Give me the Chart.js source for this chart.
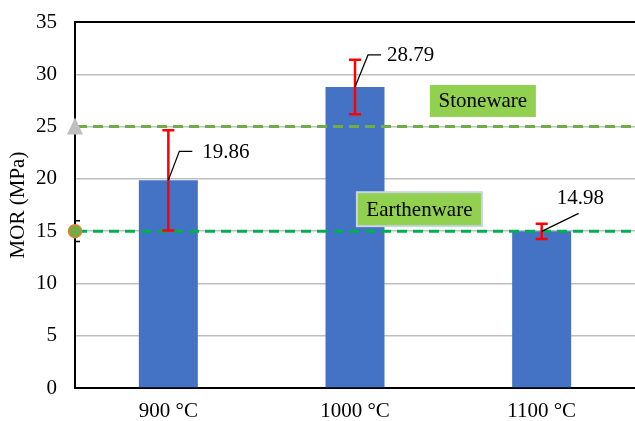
<!DOCTYPE html>
<html>
<head>
<meta charset="utf-8">
<script src="https://cdn.jsdelivr.net/npm/chart.js@4/dist/chart.umd.min.js"></script>
<style>
  html, body { margin: 0; padding: 0; background: #fff; }
  #wrap { width: 635px; height: 421px; }
</style>
</head>
<body>
<div id="wrap"><canvas id="morChart" width="635" height="421"></canvas></div>
<script>
// categorias e valores (MPa)
const temperaturas = ["900 °C", "1000 °C", "1100 °C"];
const mor = [19.86, 28.79, 14.98];
const erroMor = [4.8, 2.6, 0.72];
const yTicks = [0, 5, 10, 15, 20, 25, 30, 35];

// linhas de referência
const refNomes = ["Stoneware", "Earthenware"];
const refValores = [25, 15];
const refErro = [0, 1];

const serif = "'Liberation Serif', 'Times New Roman', serif";

// desenha linhas tracejadas, barras de erro, rótulos e caixas
const extras = {
  id: "extras",
  afterDatasetsDraw(chart) {
    const ctx = chart.ctx;
    const x = chart.scales.x;
    const y = chart.scales.y;
    const area = chart.chartArea;
    ctx.save();

    // borda superior
    ctx.strokeStyle = "#000";
    ctx.lineWidth = 2;
    ctx.beginPath();
    ctx.moveTo(area.left - 1, area.top);
    ctx.lineTo(area.right, area.top);
    ctx.stroke();

    // linhas tracejadas
    const cores = ["#70AD47", "#00B050"];
    refValores.forEach((v, i) => {
      const py = y.getPixelForValue(v);
      ctx.strokeStyle = cores[i];
      ctx.lineWidth = 3;
      ctx.setLineDash([10, 6]);
      ctx.beginPath();
      ctx.moveTo(area.left + 2, py);
      ctx.lineTo(area.right, py);
      ctx.stroke();
    });
    ctx.setLineDash([]);

    // barras de erro
    ctx.strokeStyle = "#FF0000";
    ctx.lineWidth = 2.5;
    mor.forEach((v, i) => {
      const px = x.getPixelForValue(i);
      const top = y.getPixelForValue(v + erroMor[i]);
      const bot = y.getPixelForValue(v - erroMor[i]);
      ctx.beginPath();
      ctx.moveTo(px, top); ctx.lineTo(px, bot);
      ctx.moveTo(px - 6, top); ctx.lineTo(px + 6, top);
      ctx.moveTo(px - 6, bot); ctx.lineTo(px + 6, bot);
      ctx.stroke();
    });

    // marcadores no eixo
    const ax = area.left;
    const ty = y.getPixelForValue(refValores[0]);
    ctx.fillStyle = "#BFBFBF";
    ctx.beginPath();
    ctx.moveTo(ax, ty - 9);
    ctx.lineTo(ax + 8, ty + 8);
    ctx.lineTo(ax - 8, ty + 8);
    ctx.closePath();
    ctx.fill();

    const cy = y.getPixelForValue(refValores[1]);
    ctx.strokeStyle = "#000";
    ctx.lineWidth = 1.5;
    ctx.beginPath();
    ctx.moveTo(ax, y.getPixelForValue(refValores[1] + refErro[1]));
    ctx.lineTo(ax + 5, y.getPixelForValue(refValores[1] + refErro[1]));
    ctx.moveTo(ax, y.getPixelForValue(refValores[1] - refErro[1]));
    ctx.lineTo(ax + 5, y.getPixelForValue(refValores[1] - refErro[1]));
    ctx.stroke();
    ctx.fillStyle = "#70AD47";
    ctx.strokeStyle = "#ED7D31";
    ctx.lineWidth = 1.5;
    ctx.beginPath();
    ctx.arc(ax, cy, 6.5, 0, Math.PI * 2);
    ctx.fill();
    ctx.stroke();

    // rótulos de dados com linha de chamada
    const chamadas = [
      [[11, -29], [24, -29], [34, -28]],
      [[13, -32], [26, -32], [32, -31]],
      [[37, -18], [37, -18], [15, -33]]
    ];
    ctx.font = "21px " + serif;
    ctx.fillStyle = "#000";
    ctx.textBaseline = "middle";
    mor.forEach((v, i) => {
      const px = x.getPixelForValue(i);
      const py = y.getPixelForValue(v);
      const c = chamadas[i];
      ctx.strokeStyle = "#000";
      ctx.lineWidth = 1.2;
      ctx.beginPath();
      ctx.moveTo(px, py);
      ctx.lineTo(px + c[0][0], py + c[0][1]);
      ctx.lineTo(px + c[1][0], py + c[1][1]);
      ctx.stroke();
      ctx.textAlign = "left";
      ctx.fillText(v.toFixed(2), px + c[2][0], py + c[2][1]);
    });

    // caixas Stoneware / Earthenware
    const caixas = [
      { cx: 1.685, cy: 27.45, w: 106, h: 32, borda: null },
      { cx: 1.345, cy: 17.1, w: 125, h: 34, borda: "#C9D3E6" }
    ];
    ctx.textAlign = "center";
    caixas.forEach((b, i) => {
      const px = x.getPixelForValue(b.cx);
      const py = y.getPixelForValue(b.cy);
      ctx.fillStyle = "#92D050";
      ctx.fillRect(px - b.w / 2, py - b.h / 2, b.w, b.h);
      if (b.borda) {
        ctx.strokeStyle = b.borda;
        ctx.lineWidth = 2;
        ctx.strokeRect(px - b.w / 2, py - b.h / 2, b.w, b.h);
      }
      ctx.fillStyle = "#000";
      ctx.fillText(refNomes[i], px, py + 1);
    });

    ctx.restore();
  }
};

new Chart(document.getElementById("morChart"), {
  type: "bar",
  data: {
    labels: temperaturas,
    datasets: [{
      label: "MOR",
      data: mor,
      backgroundColor: "#4472C4",
      categoryPercentage: 1,
      barPercentage: 0.316
    }]
  },
  options: {
    responsive: false,
    animation: false,
    layout: { padding: { top: 22, right: 0, left: 0, bottom: 0 } },
    plugins: {
      legend: { display: false },
      tooltip: { enabled: false }
    },
    scales: {
      x: {
        grid: { display: false, drawTicks: false },
        border: { color: "#000", width: 2 },
        ticks: { color: "#000", font: { family: serif, size: 21 }, padding: 11 },
        afterFit(s) { s.height = 33; }
      },
      y: {
        min: 0,
        max: 35,
        afterBuildTicks(s) { s.ticks = yTicks.map(v => ({ value: v })); },
        grid: { color: "#BFBFBF", lineWidth: 1.5, drawTicks: true, tickLength: 14, tickColor: "rgba(0,0,0,0)" },
        border: { color: "#000", width: 2 },
        ticks: { color: "#000", font: { family: serif, size: 21 }, padding: 4 },
        title: {
          display: true,
          text: "MOR (MPa)",
          color: "#000",
          font: { family: serif, size: 21 },
          padding: { top: 6, bottom: 0 }
        },
        afterFit(s) { s.width = 75; }
      }
    }
  },
  plugins: [extras]
});
</script>
</body>
</html>
